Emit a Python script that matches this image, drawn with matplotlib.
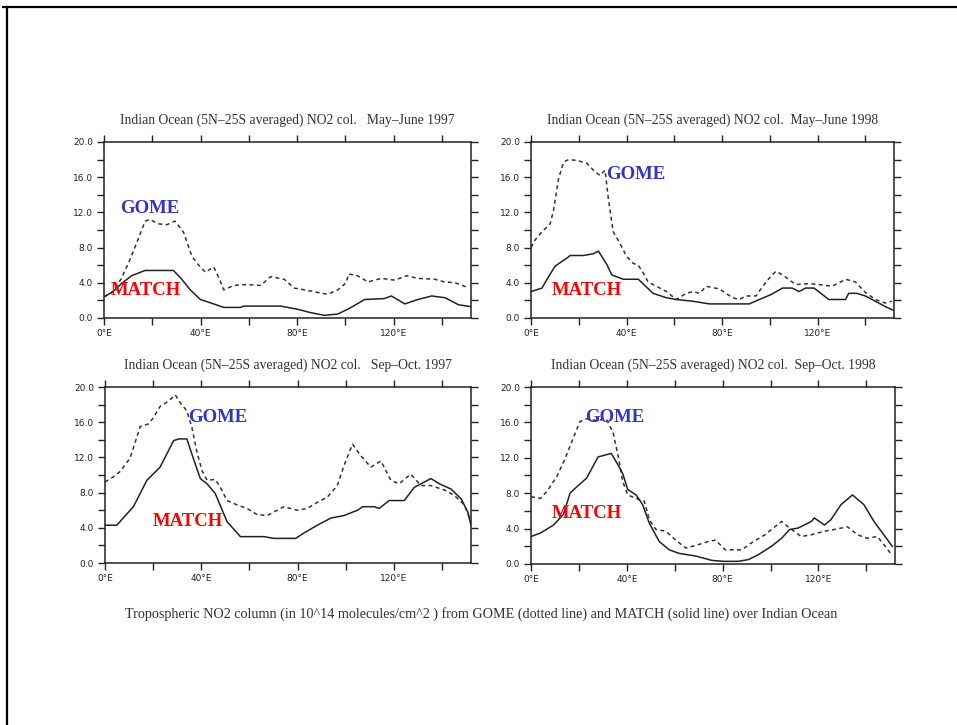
import numpy as np
import matplotlib.pyplot as plt
from matplotlib.lines import Line2D

# ---- data (longitude in deg E, NO2 column in 1e14 molec/cm2)
gome_mj97_lon = [0, 3.75, 7.2, 10.7, 14.2, 17, 19, 22.5, 26, 29.4, 33, 36.4, 39.2, 42,
                 45.4, 47.5, 49.6, 53.75, 59.3, 64.9, 69, 74.6, 78.75, 83, 88.5, 92.6,
                 96.8, 100.3, 101.25, 105, 109.3, 114.9, 120.4, 125.3, 130, 137, 141,
                 145.4, 150.3]
gome_mj97 = [2.4, 3.0, 4.5, 6.6, 9.0, 11.0, 11.2, 10.7, 10.6, 11.0, 9.7, 7.0, 6.0, 5.2,
             5.8, 4.6, 3.2, 3.7, 3.8, 3.7, 4.7, 4.4, 3.4, 3.2, 2.9, 2.7,
             3.2, 4.0, 5.0, 4.8, 4.1, 4.5, 4.3, 4.8, 4.5, 4.4, 4.1,
             4.0, 3.5]
match_mj97_lon = [0, 3.75, 7.2, 11.4, 17, 28.75, 32.2, 35.7, 39.9, 45.4, 49.6, 56.5,
                  57.9, 73.2, 80, 85.7, 91.25, 96.8, 101, 108, 116, 119, 124.6, 130,
                  135.7, 141.25, 146.8, 151.7]
match_mj97 = [2.4, 3.0, 3.9, 4.8, 5.4, 5.4, 4.4, 3.2, 2.1, 1.6, 1.2, 1.2,
              1.35, 1.35, 1.0, 0.6, 0.3, 0.45, 1.0, 2.1, 2.2, 2.5, 1.6, 2.1,
              2.5, 2.3, 1.5, 1.3]

gome_mj98_lon = [0, 1.8, 4.6, 8, 9.4, 11.5, 13.6, 15.7, 19.2, 23.3, 26.8, 28.9, 31.0,
                 32.4, 34.4, 37.2, 40, 42.8, 44.9, 47, 49, 52.5, 56.7, 60.8, 65, 67.8,
                 70.5, 73.3, 78.9, 84.4, 87.2, 90, 94.2, 97, 99.7, 102.5, 105.3, 108.8,
                 110.8, 116.4, 120.6, 126, 129, 131.7, 135.8, 140, 144.2, 148.3, 151]
gome_mj98 = [8.0, 8.9, 9.8, 10.7, 12.2, 15.8, 17.7, 18.0, 17.9, 17.6, 16.6, 16.2, 16.8,
             13.5, 9.8, 8.5, 7.0, 6.2, 6.0, 5.1, 4.1, 3.6, 3.0, 2.1, 2.8, 3.0,
             2.8, 3.6, 3.3, 2.3, 2.1, 2.5, 2.5, 3.6, 4.5, 5.3, 4.9, 4.2,
             3.8, 3.9, 3.8, 3.6, 4.0, 4.4, 4.1, 2.9, 2.1, 1.7, 1.9]
match_mj98_lon = [0, 4.6, 6.7, 10.1, 15, 16.4, 21.9, 26.1, 28.2, 31.7, 33.8, 38.6, 44.9,
                  51.1, 56.7, 60.8, 67.8, 74.7, 91.4, 95.6, 100.4, 105.3, 109.4, 112.2,
                  115, 118.5, 124.7, 131.7, 133, 136.5, 140, 144.2, 148.3, 151.5]
match_mj98 = [3.0, 3.4, 4.4, 5.9, 6.8, 7.1, 7.1, 7.3, 7.6, 6.1, 4.9, 4.4, 4.4,
              2.8, 2.3, 2.1, 1.9, 1.6, 1.6, 2.1, 2.65, 3.4, 3.4, 3.0,
              3.4, 3.4, 2.1, 2.1, 2.8, 2.8, 2.5, 1.9, 1.3, 0.9]

gome_so97_lon = [0, 3.5, 6.25, 10.4, 14.6, 18, 20.1, 22.9, 26.4, 29.2, 31.25, 34, 36.1,
                 38.2, 40.3, 42.4, 45.8, 47.9, 50.7, 54.9, 59, 63.2, 67.4, 71.5, 74.3,
                 79.9, 84, 88.2, 92.4, 96.5, 99.3, 102.8, 106.25, 110.4, 114.6, 118.75,
                 122.2, 127, 131.25, 135.4, 141, 145, 149.3, 152]
gome_so97 = [9.2, 9.8, 10.4, 11.9, 15.5, 15.8, 16.5, 17.8, 18.4, 19.1, 18.2, 17.3, 15.4,
             12.6, 10.5, 9.4, 9.5, 8.6, 7.1, 6.6, 6.2, 5.5, 5.4, 6.0, 6.4,
             6.0, 6.2, 6.9, 7.5, 8.8, 11.1, 13.5, 12.2, 10.9, 11.6, 9.4,
             9.0, 10.1, 8.8, 8.8, 8.3, 7.7, 6.6, 4.7]
match_so97_lon = [0, 4.9, 11.8, 17.4, 22.9, 28.5, 30.6, 34, 36.8, 39.6, 42.4, 45.8, 50.7,
                  56.25, 66, 70.1, 79.2, 82.6, 88.2, 93.75, 99.3, 104.9, 107, 111.8,
                  113.9, 118, 124.3, 128.5, 132.6, 135.4, 138.9, 143.75, 147.9, 150.7,
                  152]
match_so97 = [4.3, 4.3, 6.4, 9.4, 10.9, 13.9, 14.1, 14.1, 11.8, 9.6, 9.0, 7.9, 4.7,
              3.0, 3.0, 2.8, 2.8, 3.4, 4.3, 5.1, 5.4, 6.0, 6.4, 6.4,
              6.2, 7.1, 7.1, 8.6, 9.2, 9.6, 9.0, 8.4, 7.3, 5.8,
              4.3]

gome_so98_lon = [0, 3.9, 6.6, 10.8, 14.2, 17, 20.4, 23.2, 27.3, 31.4, 34.2, 36.3, 38.3,
                 40.4, 43.9, 47.3, 49.4, 52.1, 56.3, 60.4, 64.6, 70, 74.2, 77, 81.1, 88,
                 92.1, 97.7, 101.8, 104.6, 108, 112.8, 117, 122.5, 126.6, 132.1, 136.3,
                 140.4, 144.6, 147.3, 150.1]
gome_so98 = [7.6, 7.4, 8.2, 9.9, 11.9, 13.8, 16.1, 16.4, 16.2, 16.4, 14.9, 12.3, 9.3,
             7.8, 7.4, 7.1, 5.0, 3.9, 3.7, 2.7, 1.8, 2.2, 2.55, 2.7, 1.6, 1.6,
             2.4, 3.3, 4.2, 4.8, 4.05, 3.1, 3.3, 3.7, 3.9, 4.2, 3.3,
             2.9, 3.1, 2.2, 1.2]
match_so98_lon = [0, 3.9, 9.4, 13.5, 16.3, 19, 23.2, 28, 30.8, 33.5, 36.3, 38.3, 40.4,
                  43.9, 46.6, 49.4, 53.5, 57.7, 61.8, 68.7, 75.6, 80.4, 86.6, 90.8, 94.9,
                  100.4, 104.6, 108, 111.4, 117, 118.3, 122.5, 125.2, 129.4, 134.2, 139,
                  143.2, 147.3, 150.8]
match_so98 = [3.1, 3.5, 4.4, 5.6, 8.0, 8.7, 9.7, 12.1, 12.3, 12.5, 11.2, 10.2, 8.4,
              7.8, 6.7, 4.6, 2.55, 1.6, 1.2, 0.9, 0.4, 0.3, 0.3, 0.5, 1.05,
              2.0, 2.9, 3.9, 4.05, 4.8, 5.2, 4.4, 5.0, 6.7, 7.8, 6.7,
              4.8, 3.3, 2.0]

titles = [
    "Indian Ocean (5N\u201325S averaged) NO2 col.   May\u2013June 1997",
    "Indian Ocean (5N\u201325S averaged) NO2 col.  May\u2013June 1998",
    "Indian Ocean (5N\u201325S averaged) NO2 col.   Sep\u2013Oct. 1997",
    "Indian Ocean (5N\u201325S averaged) NO2 col.  Sep\u2013Oct. 1998",
]
xtick_labels = ["0\u00b0E", "", "40\u00b0E", "", "80\u00b0E", "", "120\u00b0E", ""]
ytick_labels = ["0.0", "4.0", "8.0", "12.0", "16.0", "20.0"]
caption = ("Tropospheric NO2 column (in 10^14 molecules/cm^2 ) from GOME (dotted line) "
           "and MATCH (solid line) over Indian Ocean")

# label positions (data coords) for the GOME / MATCH tags
gome_tag = [(19, 12.4), (44, 16.3), (47, 16.5), (35, 16.5)]
match_tag = [(17.4, 3.1), (23.5, 3.1), (34.4, 4.7), (23.4, 5.7)]

series = [
    (gome_mj97_lon, gome_mj97, match_mj97_lon, match_mj97),
    (gome_mj98_lon, gome_mj98, match_mj98_lon, match_mj98),
    (gome_so97_lon, gome_so97, match_so97_lon, match_so97),
    (gome_so98_lon, gome_so98, match_so98_lon, match_so98),
]

boxes = [
    [0.1087, 0.5614, 0.3835, 0.2428],
    [0.5549, 0.5614, 0.3793, 0.2428],
    [0.1097, 0.2234, 0.3824, 0.2428],
    [0.5549, 0.2221, 0.3804, 0.2441],
]

fig = plt.figure(figsize=(9.57, 7.25), dpi=100)

# page frame (top and left edges only)
fig.add_artist(Line2D([0.003, 1.0], [0.990, 0.990], transform=fig.transFigure,
                      color="black", lw=1.6))
fig.add_artist(Line2D([0.0075, 0.0075], [0.0, 0.990], transform=fig.transFigure,
                      color="black", lw=1.6))

for i, box in enumerate(boxes):
    ax = fig.add_axes(box)
    g_lon, g_val, m_lon, m_val = series[i]
    ax.plot(g_lon, g_val, color="#333333", lw=1.1, linestyle=(0, (2.6, 2.2)))
    ax.plot(m_lon, m_val, color="#222222", lw=1.1)
    ax.set_xlim(0, 152)
    ax.set_ylim(0, 20)
    ax.set_xticks(np.arange(0, 160, 20))
    ax.set_xticklabels(xtick_labels)
    ax.set_yticks(np.arange(0, 24, 4))
    ax.set_yticklabels(ytick_labels)
    ax.set_yticks(np.arange(2, 20, 4), minor=True)
    ax.tick_params(which="both", direction="out", length=5, width=1.0,
                   top=True, right=True, labelsize=6.5, colors="#222222",
                   pad=3)
    for sp in ax.spines.values():
        sp.set_linewidth(1.1)
        sp.set_color("#222222")
    ax.set_title(titles[i], fontsize=9.8, pad=13, color="#333333",
                 family="Liberation Serif")
    ax.text(*gome_tag[i], "GOME", color="#3333cc", fontsize=13.5, fontweight="bold",
            family="Liberation Serif", ha="center", va="center")
    ax.text(*match_tag[i], "MATCH", color="#ff0000", fontsize=13.5, fontweight="bold",
            family="Liberation Serif", ha="center", va="center")

fig.text(0.503, 0.153, caption, fontsize=10.2, ha="center", va="center",
         color="#333333", family="Liberation Serif")

fig.savefig("out.png", dpi=100, facecolor="white")
